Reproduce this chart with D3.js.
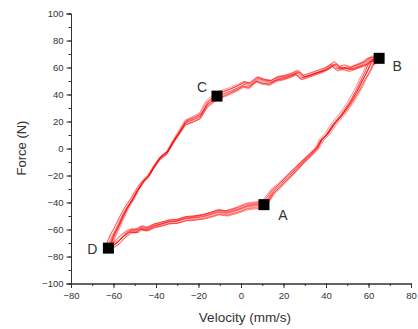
<!DOCTYPE html>
<html>
<head>
<meta charset="utf-8">
<script src="https://cdn.jsdelivr.net/npm/d3@7"></script>
<style>
  body { margin: 0; background: #fff; }
  svg text { font-family: "Liberation Sans", Arial, sans-serif; fill: #333; }
</style>
</head>
<body>
<div id="graph"></div>
<script>
// loop: D -> C -> B -> A -> D  (velocity mm/s, force N)
const upLeftBranch = [[-62.4,-73.8],[-60.0,-64.0],[-58.4,-59.4],[-56.1,-51.5],[-53.7,-44.1],[-51.0,-37.5],[-49.0,-31.7],[-45.9,-24.3],[-43.5,-20.5],[-41.2,-14.4],[-38.0,-7.0],[-34.9,-3.3],[-31.7,5.4],[-28.6,12.8],[-26.2,19.0],[-22.3,21.5],[-19.2,24.0],[-16.0,32.7],[-11.3,38.8]]
const topBranch = [[-11.3,38.8],[-7.5,41.0],[-5.0,42.5],[-1.5,45.0],[1.3,47.5],[4.0,46.5],[7.6,51.2],[10.5,49.5],[13.9,48.7],[17.0,51.5],[20.2,52.4],[23.5,54.0],[26.5,56.1],[29.0,52.5],[31.2,53.5],[35.9,56.1],[39.5,58.0],[43.7,62.4],[46.0,59.0],[48.4,59.9],[51.6,58.6],[54.5,60.5],[57.9,62.4],[61.0,66.1],[65.0,66.8]]
const rightBranch = [[65.0,66.8],[61.0,62.4],[59.5,57.0],[57.9,52.4],[54.8,42.5],[51.6,33.9],[47.7,25.2],[43.7,17.8],[40.6,10.4],[38.0,6.5],[35.9,0.4],[31.2,-7.0],[28.5,-11.0],[26.5,-14.4],[21.8,-21.8],[17.1,-29.2],[15.0,-32.0],[13.1,-36.7],[10.8,-41.6]]
const bottomBranch = [[10.8,-41.6],[6.5,-42.0],[2.9,-42.8],[-1.5,-45.5],[-6.6,-47.8],[-10.5,-47.0],[-14.4,-49.0],[-18.0,-50.5],[-22.3,-51.5],[-26.0,-52.0],[-30.1,-54.0],[-34.0,-54.5],[-38.0,-56.4],[-41.0,-57.5],[-44.3,-60.1],[-47.0,-59.0],[-49.0,-61.4],[-52.2,-61.4],[-55.3,-65.1],[-58.4,-70.1],[-62.4,-73.8]]

// how far each recorded cycle sits from the loop above at D, C, B and A [dv, dF]
const cycleShift = [
  [[0,0],[0,0],[0,0],[0,0]],
  [[0.8,1.2],[0.5,2.2],[1.2,-0.5],[-0.5,1.8]],
  [[-0.9,-0.8],[0.3,-1.8],[-1.0,0.8],[0.6,-1.4]],
  [[1.3,-0.4],[-0.6,1.2],[0.4,1.6],[-0.3,-2.2]],
  [[-1.1,1.6],[0.2,-2.6],[-1.5,-0.6],[0.8,0.9]],
  [[0.4,-1.8],[-0.4,3.0],[0.9,-1.4],[-0.9,2.6]],
  [[-1.6,0.5],[0.7,0.4],[1.7,0.3],[0.3,-0.6]],
  [[0.9,2.2],[-0.2,-1.0],[-0.6,-1.8],[-0.6,1.2]],
  [[-0.3,-0.3],[0.6,1.8],[0.2,2.2],[0.4,-2.8]],
  [[0.5,0.7],[-0.5,-2.2],[-1.8,0.9],[-0.2,0.3]]
]

// marked points
const markLabels = ["A","B","C","D"]
const markV = [10.8, 65.0, -11.3, -62.4]
const markF = [-41.6, 66.8, 38.8, -73.8]
const labelDx = [19, 18, -15, -16]
const labelDy = [10, 8, -9, 1]

const xTicks = [-80,-60,-40,-20,0,20,40,60,80]
const yTicks = [-100,-80,-60,-40,-20,0,20,40,60,80,100]

const width = 418, height = 329

const svg = d3.select('#graph').append('svg').attr('width', width).attr('height', height)

const xScale = d3.scaleLinear().domain([-80, 80]).range([71, 411])
const yScale = d3.scaleLinear().domain([-100, 100]).range([283.5, 13.5])

const branches = [upLeftBranch, topBranch, rightBranch, bottomBranch]

// one cycle: each branch blends from the shift at its start corner to the one at its end corner
function cyclePoints(shift) {
  let pts = []
  branches.forEach((b, bi) => {
    const s0 = shift[bi], s1 = shift[(bi + 1) % 4]
    b.forEach((p, i) => {
      if (bi > 0 && i == 0) return
      const t = i / (b.length - 1)
      pts.push([p[0] + s0[0] + (s1[0] - s0[0]) * t, p[1] + s0[1] + (s1[1] - s0[1]) * t])
    })
  })
  return pts
}

const line = d3.line().x(d => xScale(d[0])).y(d => yScale(d[1]))

// draw every cycle
svg.append('g').selectAll('path').data(cycleShift).enter()
  .append('path')
    .attr('d', s => line(cyclePoints(s)))
    .attr('fill', 'none')
    .attr('stroke', '#ff0000')
    .attr('stroke-width', 0.6)
    .attr('stroke-opacity', 0.75)

// axes, minor ticks first then major ticks with labels
const minorX = d3.range(-80, 81, 10), minorY = d3.range(-100, 101, 10)

svg.append('g').attr('transform', 'translate(0,283.5)')
  .call(d3.axisBottom(xScale).tickValues(minorX).tickSize(2.5).tickFormat(''))
svg.append('g').attr('class', 'axis').attr('transform', 'translate(0,283.5)')
  .call(d3.axisBottom(xScale).tickValues(xTicks).tickSize(4.5).tickPadding(4))

svg.append('g').attr('transform', 'translate(71,0)')
  .call(d3.axisLeft(yScale).tickValues(minorY).tickSize(2.5).tickFormat(''))
svg.append('g').attr('class', 'axis').attr('transform', 'translate(71,0)')
  .call(d3.axisLeft(yScale).tickValues(yTicks).tickSize(4.5).tickPadding(3))

svg.selectAll('.domain').attr('stroke', '#333')
svg.selectAll('.tick line').attr('stroke', '#333')
svg.selectAll('.axis text').style('font-size', '9.5px').style('fill', '#333')

// axis titles
svg.append('text')
  .attr('x', 245).attr('y', 322)
  .attr('text-anchor', 'middle')
  .style('font-size', '13.5px')
  .text('Velocity (mm/s)')

svg.append('text')
  .attr('transform', 'translate(26,148) rotate(-90)')
  .attr('text-anchor', 'middle')
  .style('font-size', '13px')
  .text('Force (N)')

// markers
svg.append('g').selectAll('rect').data(markV).enter()
  .append('rect')
    .attr('x', (d, i) => xScale(d) - 5.5)
    .attr('y', (d, i) => yScale(markF[i]) - 5.5)
    .attr('width', 11).attr('height', 11)
    .attr('fill', '#000')

svg.append('g').selectAll('text').data(markLabels).enter()
  .append('text')
    .attr('x', (d, i) => xScale(markV[i]) + labelDx[i])
    .attr('y', (d, i) => yScale(markF[i]) + labelDy[i])
    .attr('dy', '0.36em')
    .attr('text-anchor', 'middle')
    .style('font-size', '14px')
    .text(d => d)
</script>
</body>
</html>
